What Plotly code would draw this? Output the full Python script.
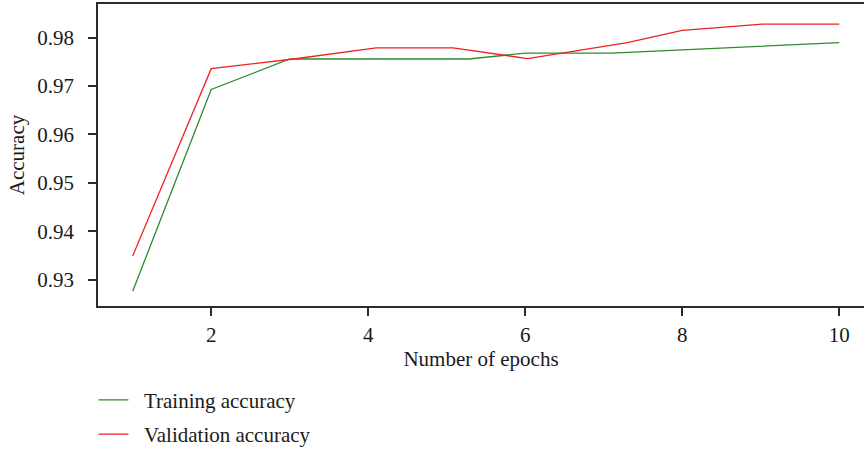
import plotly.graph_objects as go

# Data
train_epochs = [1, 2, 3, 5.28, 6, 7.1, 8, 9, 10]
train_acc = [0.9276, 0.9693, 0.9756, 0.9756, 0.9768, 0.9768, 0.9775, 0.9783, 0.9790]

val_epochs = [1, 2, 3.05, 4.1, 5.08, 6.03, 7.3, 8, 9.02, 10]
val_acc = [0.9349, 0.9736, 0.9756, 0.9779, 0.9779, 0.9757, 0.9790, 0.9815, 0.9828, 0.9828]

x_ticks = [2, 4, 6, 8, 10]
y_ticks = [0.93, 0.94, 0.95, 0.96, 0.97, 0.98]

FONT = "Liberation Serif"
AXIS_COLOR = "#2b2b2b"
NB = "\u00a0\u00a0"

fig = go.Figure()
fig.add_trace(go.Scatter(x=train_epochs, y=train_acc, mode="lines",
                         name=NB + "Training accuracy", legendgroup="a",
                         line=dict(color="#2e8b2e", width=1.3)))
fig.add_trace(go.Scatter(x=val_epochs, y=val_acc, mode="lines",
                         name=NB + "Validation accuracy", legendgroup="b",
                         line=dict(color="#f02020", width=1.3)))

fig.update_layout(
    width=864, height=455,
    margin=dict(l=98, r=0, t=4, b=149),
    paper_bgcolor="white", plot_bgcolor="white",
    font=dict(family=FONT, size=21, color="#1a1a1a"),
    showlegend=True,
    legend=dict(x=-0.006, xanchor="left",
                y=-0.4925, yanchor="bottom",
                orientation="v", tracegroupgap=4,
                font=dict(family=FONT, size=21, color="#1a1a1a"),
                bgcolor="rgba(0,0,0,0)"),
    xaxis=dict(range=[0.558, 10.315], tickvals=x_ticks,
               showgrid=False, zeroline=False,
               showline=True, linecolor=AXIS_COLOR, linewidth=1.5, mirror=True,
               ticks="outside", ticklen=8, tickcolor=AXIS_COLOR, tickwidth=1.5,
               ticklabelstandoff=1,
               title=dict(text="Number of epochs", standoff=3,
                          font=dict(family=FONT, size=21))),
    yaxis=dict(range=[0.92454, 0.98697], tickvals=y_ticks,
               tickformat=".2f",
               showgrid=False, zeroline=False,
               showline=True, linecolor=AXIS_COLOR, linewidth=1.5, mirror=False,
               ticks="outside", ticklen=8, tickcolor=AXIS_COLOR, tickwidth=1.5,
               ticklabelstandoff=10,
               title=dict(text="Accuracy", standoff=7,
                          font=dict(family=FONT, size=21))),
)

fig.write_html("out.html")
